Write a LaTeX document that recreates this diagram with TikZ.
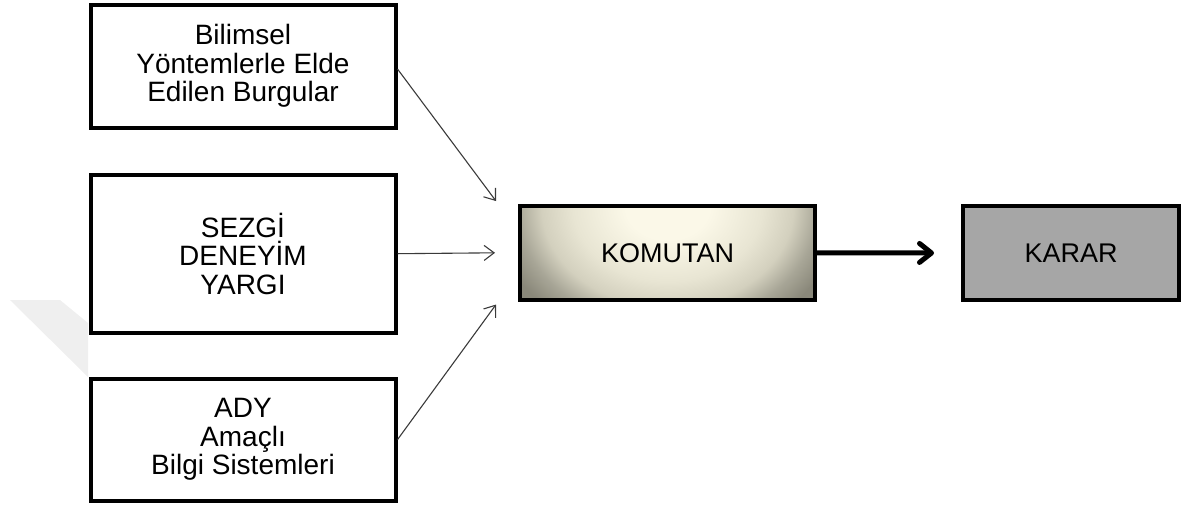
\documentclass[tikz,border=0pt]{standalone}
\usepackage{fontspec}
\setmainfont{Liberation Sans}
\usetikzlibrary{arrows.meta}

% soft cream glow at the top centre fading to olive-grey edges
\definecolor{komlight}{HTML}{FBF8E8}
\definecolor{komsoft}{HTML}{E8E5D3}
\definecolor{kommid}{HTML}{D3D0BE}
\definecolor{komgray}{HTML}{A8A697}
\definecolor{komdark}{HTML}{8A887A}
\definecolor{kararfill}{HTML}{A6A6A6}
\definecolor{thinline}{HTML}{3A3A3A}
\definecolor{markgray}{HTML}{EFEFEF}
\pgfdeclareradialshading{komshade}{\pgfpoint{0bp}{0bp}}{%
  color(0bp)=(komlight); color(6bp)=(komlight); color(13.5bp)=(komsoft);
  color(18bp)=(kommid); color(21.5bp)=(komgray); color(25bp)=(komdark);
  color(50bp)=(komdark)}

\tikzset{
  inbox/.style={draw=black, line width=4pt, fill=white, align=center,
    font=\fontsize{28}{28.5}\selectfont, inner sep=0pt},
  kombox/.style={draw=black, line width=4pt, fill=komdark,
    path picture={\shade[shading=komshade]
      (path picture bounding box.north) ellipse [x radius=175pt, y radius=140pt];},
    font=\fontsize{27}{30}\selectfont, inner sep=0pt,
    minimum width=295pt, minimum height=93.5pt},
  kararbox/.style={draw=black, line width=4pt, fill=kararfill,
    font=\fontsize{27}{30}\selectfont, inner sep=0pt,
    minimum width=216pt, minimum height=94pt},
  feed/.style={draw=thinline, line width=1.1pt,
    -{Straight Barb[length=10pt,width=15pt]}},
  bigarrow/.style={draw=black, line width=5pt,
    -{Straight Barb[length=12pt,width=19pt,line join=round,line cap=round]}}
}

\begin{document}
\begin{tikzpicture}[x=1pt, y=-1pt]
  \useasboundingbox (0,0) rectangle (1182,504);

  % faint background mark at the left margin
  \fill[markgray] (10,300) -- (60,300) -- (88,323) -- (88,377) -- cycle;

  % input boxes
  \node[inbox, minimum width=305pt, minimum height=123pt] (b1) at (243,66)
    {Bilimsel\\Yöntemlerle Elde\\Edilen Burgular};
  \node[inbox, minimum width=305pt, minimum height=158pt] (b2) at (243,253.7)
    {SEZGİ\\DENEYİM\\YARGI};
  \node[inbox, minimum width=305pt, minimum height=122pt] (b3) at (243,439.6)
    {ADY\\Amaçlı\\Bilgi Sistemleri};

  % commander and decision
  \node[kombox] (kom) at (667.5,252.8) {KOMUTAN};
  \node[kararbox] (karar) at (1071,253) {KARAR};

  % arrow tips in front of the commander box
  \coordinate (t1) at ([xshift=-22pt,yshift=3pt]kom.north west);
  \coordinate (t2) at ([xshift=-23pt]kom.west);
  \coordinate (t3) at ([xshift=-22pt,yshift=-3pt]kom.south west);

  \draw[feed] ([yshift=-3pt]b1.east) -- (t1);
  \draw[feed] (b2.east) -- (t2);
  \draw[feed] (b3.east) -- (t3);

  \draw[bigarrow, shorten >=27pt] (kom.east) -- (karar.west);
\end{tikzpicture}
\end{document}
